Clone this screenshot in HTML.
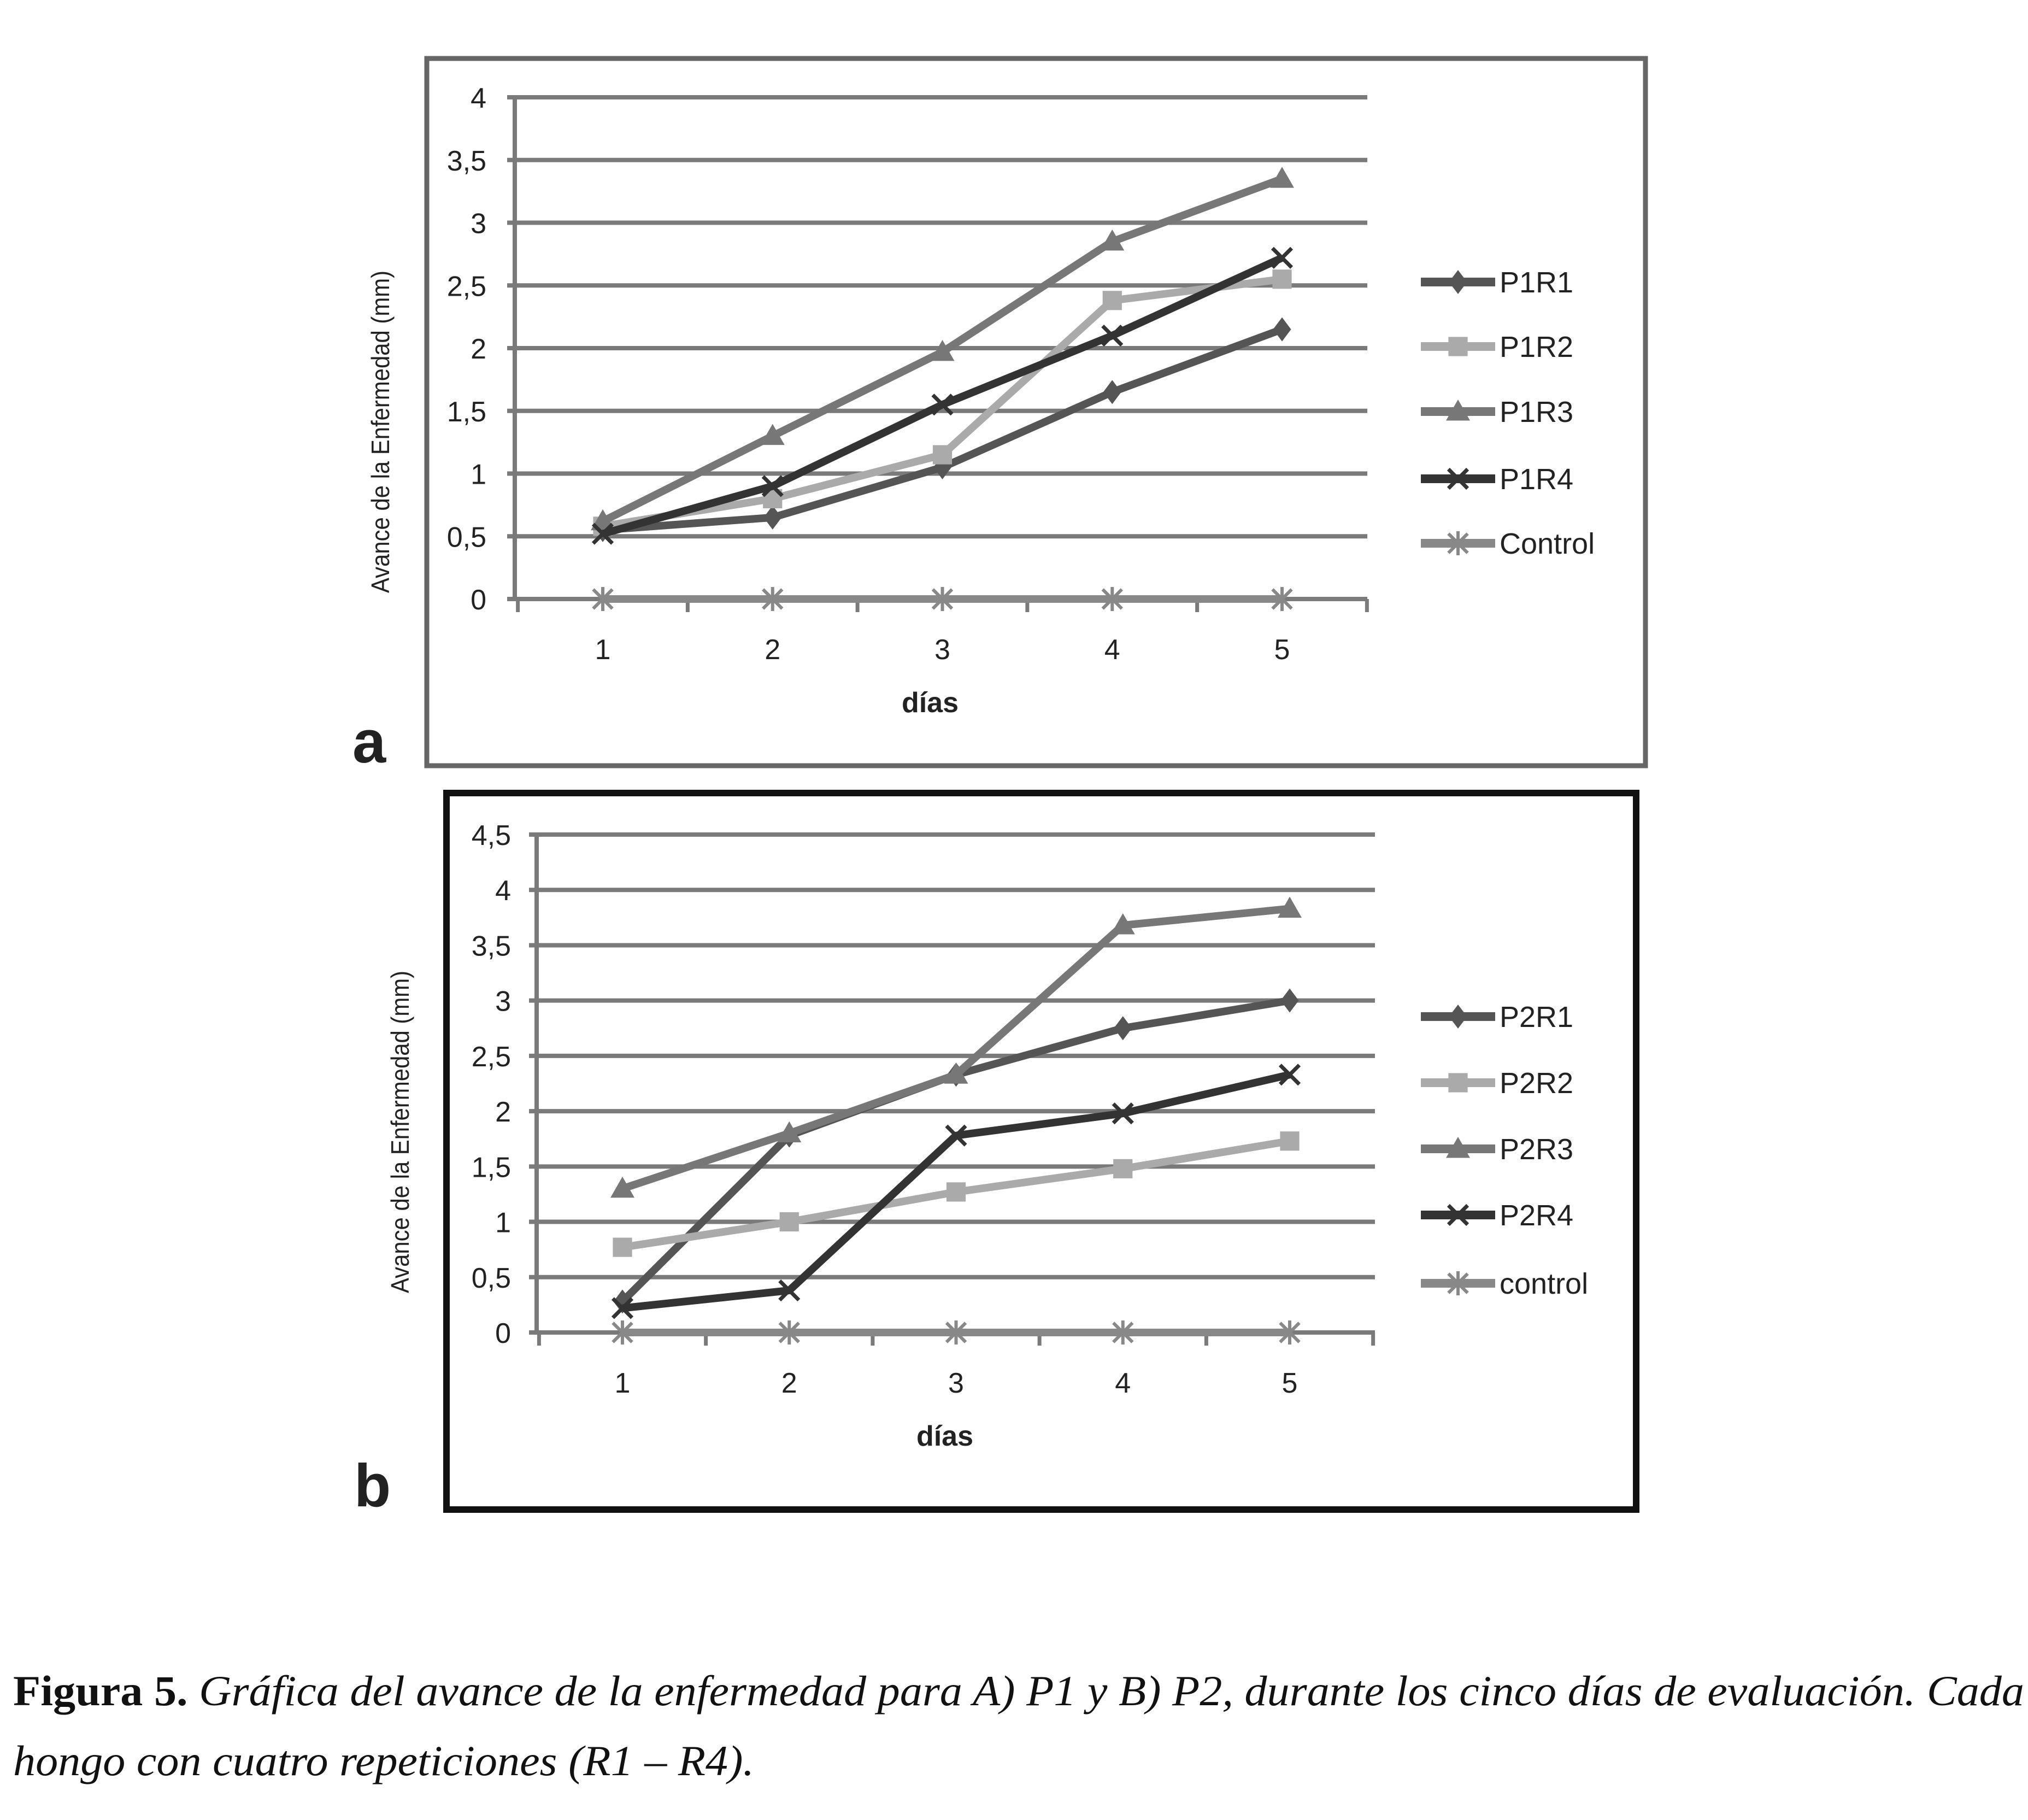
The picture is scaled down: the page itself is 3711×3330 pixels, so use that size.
<!DOCTYPE html>
<html><head><meta charset="utf-8"><style>
html,body{margin:0;padding:0;background:#fff;}
svg{display:block;}
</style></head><body>
<svg id="fig" width="3711" height="3330" viewBox="0 0 3711 3330" xmlns="http://www.w3.org/2000/svg" font-family="Liberation Sans, sans-serif">
<rect x="781" y="107" width="2230" height="1294" fill="none" stroke="#666" stroke-width="9"/>
<rect x="817" y="1451" width="2177" height="1311" fill="none" stroke="#111" stroke-width="12"/>
<text x="645" y="1395" font-size="110" font-weight="bold" fill="#222">a</text>
<text x="648" y="2756" font-size="110" font-weight="bold" fill="#222">b</text>
<g id="ca"></g>
<g id="cb"></g>
<text x="24" y="3120" font-size="78" font-family="Liberation Serif, serif" fill="#111" textLength="3680" lengthAdjust="spacingAndGlyphs"><tspan font-weight="bold">Figura 5.</tspan><tspan font-style="italic"> Gráfica del avance de la enfermedad para A) P1 y B) P2, durante los cinco días de evaluación. Cada</tspan></text>
<text x="24" y="3248" font-size="78" font-family="Liberation Serif, serif" font-style="italic" fill="#111" textLength="1356" lengthAdjust="spacingAndGlyphs">hongo con cuatro repeticiones (R1 – R4).</text>
</svg>
<script>
const categories = ["1","2","3","4","5"];
const aTicks = ["0","0,5","1","1,5","2","2,5","3","3,5","4"];
const aNames = ["P1R1","P1R2","P1R3","P1R4","Control"];
const aP1R1 = [0.55,0.65,1.05,1.65,2.15];
const aP1R2 = [0.58,0.8,1.15,2.38,2.55];
const aP1R3 = [0.62,1.3,1.97,2.85,3.35];
const aP1R4 = [0.52,0.9,1.55,2.1,2.72];
const aControl = [0,0,0,0,0];
const bTicks = ["0","0,5","1","1,5","2","2,5","3","3,5","4","4,5"];
const bNames = ["P2R1","P2R2","P2R3","P2R4","control"];
const bP2R1 = [0.28,1.78,2.33,2.75,3.0];
const bP2R2 = [0.77,1.0,1.27,1.48,1.73];
const bP2R3 = [1.3,1.8,2.33,3.68,3.83];
const bP2R4 = [0.22,0.38,1.78,1.98,2.33];
const bControl = [0,0,0,0,0];

const NS="http://www.w3.org/2000/svg";
function mk(p,t,at){const e=document.createElementNS(NS,t);for(const k in at)e.setAttribute(k,at[k]);p.appendChild(e);return e;}
const colors=["#555","#aaa","#777","#333","#888"];
const markers=["diamond","square","triangle","x","star"];
function marker(g,type,x,y,c,s){
  let e;
  if(type==="diamond") e=mk(g,"polygon",{points:`${x},${y-s} ${x+s*0.75},${y} ${x},${y+s} ${x-s*0.75},${y}`,fill:c});
  else if(type==="square") e=mk(g,"rect",{x:x-s*0.8,y:y-s*0.8,width:s*1.6,height:s*1.6,fill:c});
  else if(type==="triangle") e=mk(g,"polygon",{points:`${x},${y-s} ${x+s},${y+s*0.75} ${x-s},${y+s*0.75}`,fill:c});
  else if(type==="x") e=mk(g,"path",{d:`M${x-s*0.8},${y-s*0.8}L${x+s*0.8},${y+s*0.8}M${x+s*0.8},${y-s*0.8}L${x-s*0.8},${y+s*0.8}`,stroke:c,"stroke-width":7});
  else e=mk(g,"path",{d:`M${x-s*0.8},${y-s*0.8}L${x+s*0.8},${y+s*0.8}M${x+s*0.8},${y-s*0.8}L${x-s*0.8},${y+s*0.8}M${x},${y-s}L${x},${y+s}`,stroke:c,"stroke-width":6});
  return e;
}
function chart(g,cfg){
  const {L,R,y0,yTop,maxV,c1,c5,ticks,names,series,legY,titleX,titleY,xlabY,diasY,labR}=cfg;
  const ys=v=>y0-(v/maxV)*(y0-yTop);
  const step=(c5-c1)/(categories.length-1);
  const xs=i=>c1+i*step;
  ticks.forEach((t,i)=>{
    const v=i*0.5,y=ys(v);
    const gl=mk(g,"line",{x1:L-14,x2:R,y1:y,y2:y,stroke:"#7a7a7a","stroke-width":8});
    
    
    const tx=mk(g,"text",{x:labR,y:y+19,"font-size":52,"text-anchor":"end",fill:"#222"});
    tx.textContent=t;
    
    
  });
  mk(g,"line",{x1:L,x2:L,y1:yTop-4,y2:y0+4,stroke:"#7a7a7a","stroke-width":8});
  for(let i=0;i<=categories.length;i++){
    const x=c1-step/2+i*step;
    mk(g,"line",{x1:x,x2:x,y1:y0,y2:y0+24,stroke:"#7a7a7a","stroke-width":7});
  }
  categories.forEach((c,i)=>{
    const t=mk(g,"text",{x:xs(i),y:xlabY,"font-size":52,"text-anchor":"middle",fill:"#222"});
    t.textContent=c;
    
    
  });
  const d=mk(g,"text",{x:(L+R)/2-20,y:diasY,"font-size":52,"font-weight":"bold","text-anchor":"middle",fill:"#222"});
  d.textContent="días";
  
  
  const yt=mk(g,"text",{x:0,y:0,"font-size":46,"text-anchor":"middle",fill:"#222",transform:`translate(${titleX},${titleY}) rotate(-90)`,textLength:590,lengthAdjust:"spacingAndGlyphs"});
  yt.textContent="Avance de la Enfermedad (mm)";
  
  
  series.forEach((vals,si)=>{
    const sg=mk(g,"g",{});
    
    
    const pts=vals.map((v,i)=>xs(i)+","+ys(v)).join(" ");
    mk(sg,"polyline",{points:pts,fill:"none",stroke:colors[si],"stroke-width":14,"stroke-linejoin":"round"});
    vals.forEach((v,i)=>{
      const m=marker(sg,markers[si],xs(i),ys(v),colors[si],22);
      
      
    });
    const lg=mk(g,"g",{});
    
    
    const ly=legY[si];
    mk(lg,"line",{x1:2600,x2:2736,y1:ly,y2:ly,stroke:colors[si],"stroke-width":16});
    marker(lg,markers[si],2668,ly,colors[si],22);
    const lt=mk(lg,"text",{x:2744,y:ly+19,"font-size":54,fill:"#222"});
    lt.textContent=names[si];
  });
}
chart(document.getElementById("ca"),{L:942,R:2502,y0:1096,yTop:178,maxV:4,c1:1103,c5:2346,ticks:aTicks,names:aNames,
  series:[aP1R1,aP1R2,aP1R3,aP1R4,aControl],legY:[516,634,753,876,994],titleX:712,titleY:790,xlabY:1206,diasY:1303,labR:890});
chart(document.getElementById("cb"),{L:982,R:2516,y0:2438,yTop:1527,maxV:4.5,c1:1139,c5:2360,ticks:bTicks,names:bNames,
  series:[bP2R1,bP2R2,bP2R3,bP2R4,bControl],legY:[1860,1981,2102,2223,2348],titleX:748,titleY:2071,xlabY:2548,diasY:2645,labR:935});
</script>
</body></html>
